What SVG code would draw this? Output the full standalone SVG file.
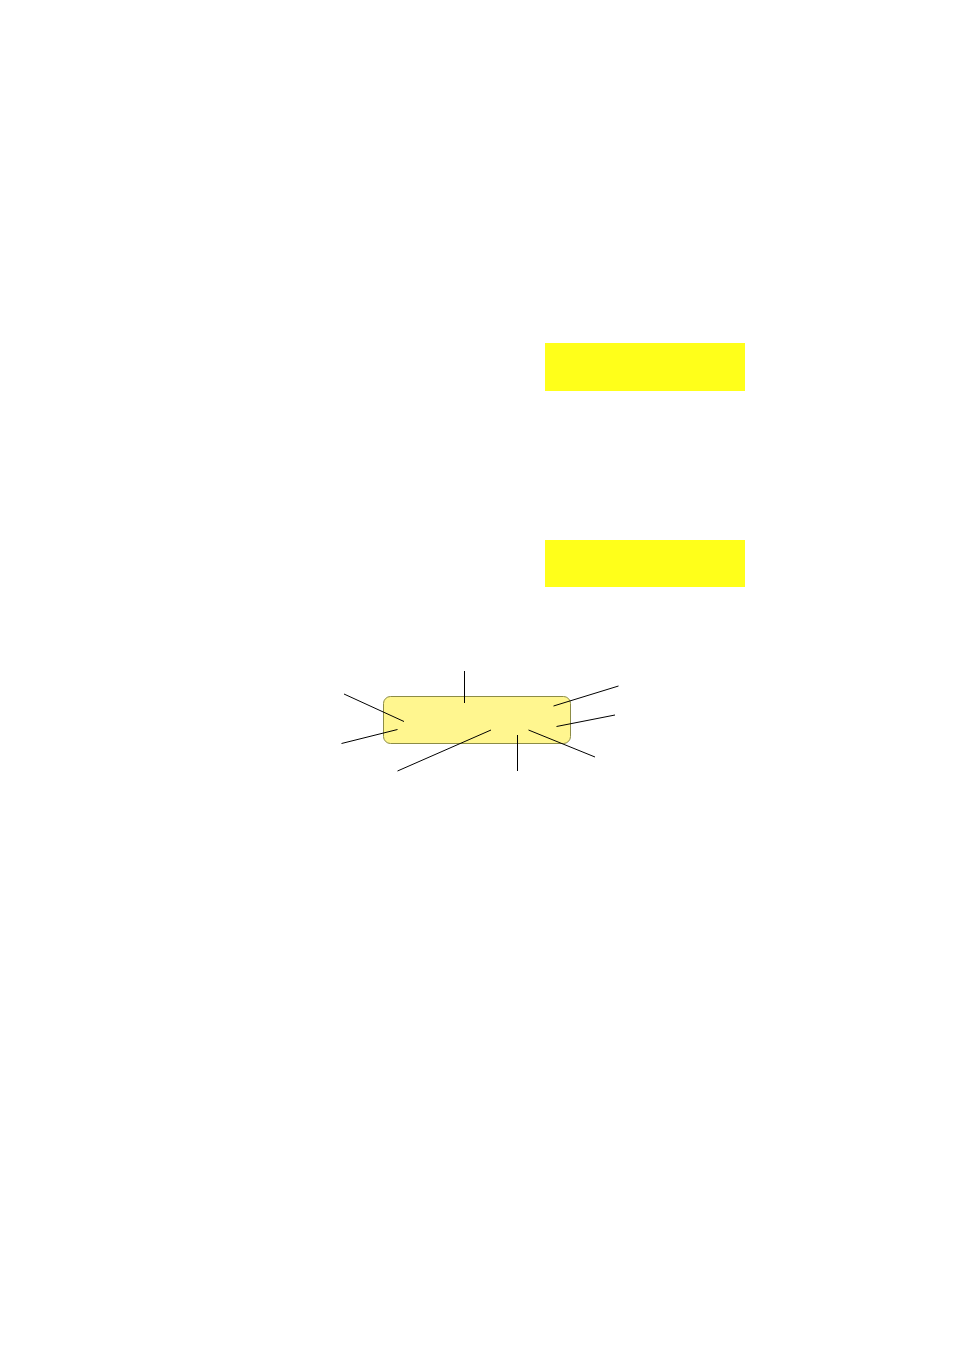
<svg xmlns="http://www.w3.org/2000/svg" width="954" height="1350" viewBox="0 0 954 1350">
<style>
.hl{fill:#ffff1a;stroke:none}
.box{fill:#fff68f;stroke:#8c8c46;stroke-width:1}
.ln{stroke:#000;stroke-width:1;fill:none}
</style>
<rect width="954" height="1350" fill="#fff"/>
<g id="node1"><rect class="hl" x="545" y="343" width="200" height="48"/></g>
<g id="node2"><rect class="hl" x="545" y="540" width="200" height="47"/></g>
<g id="node3"><rect class="box" x="383.5" y="696.5" width="187" height="47" rx="7" ry="7"/></g>
<g id="connectors">
<line class="ln" x1="464.5" y1="671" x2="464.5" y2="703"/>
<line class="ln" x1="344" y1="694" x2="404" y2="721.5"/>
<line class="ln" x1="341.5" y1="743.5" x2="397.5" y2="729.5"/>
<line class="ln" x1="397.5" y1="771" x2="491" y2="730"/>
<line class="ln" x1="517.5" y1="771" x2="517.5" y2="735"/>
<line class="ln" x1="528.5" y1="730" x2="595" y2="757"/>
<line class="ln" x1="553.5" y1="706" x2="618.5" y2="686"/>
<line class="ln" x1="556.5" y1="726.5" x2="615" y2="715"/>
</g>
</svg>
